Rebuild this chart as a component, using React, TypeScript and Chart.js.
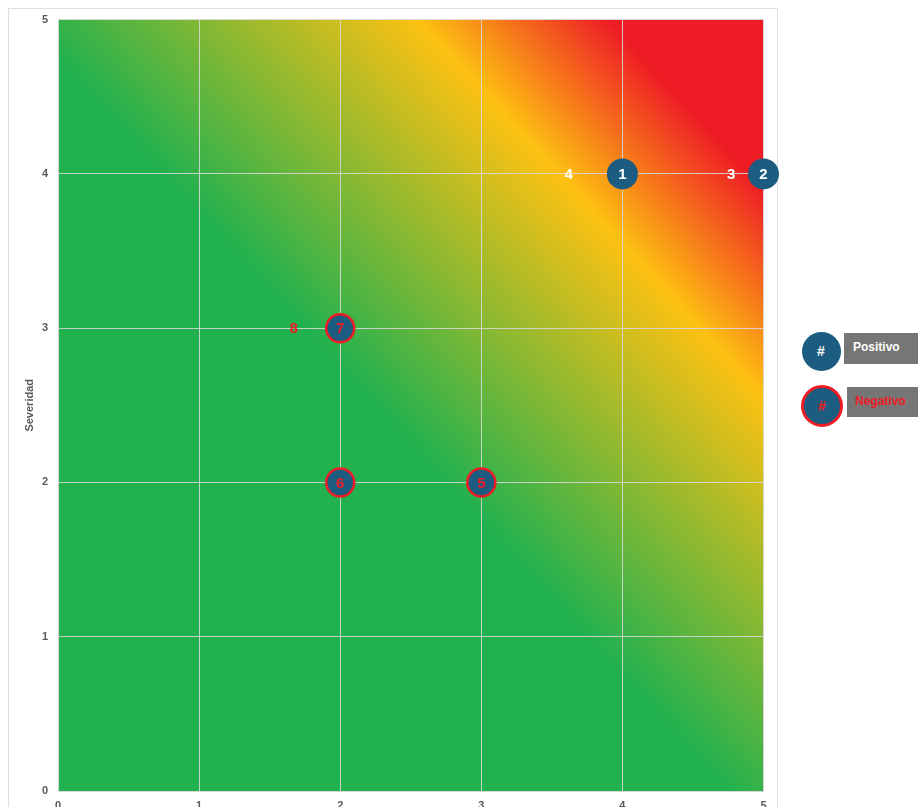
import React, { useEffect, useRef } from 'react';
import { Chart, registerables } from 'chart.js';

Chart.register(...registerables);

// ---- data ----
const positiveX = [4, 5];
const positiveY = [4, 4];
const positiveLabels = ['1', '2'];

const negativeX = [2, 2, 3];
const negativeY = [3, 2, 2];
const negativeLabels = ['7', '6', '5'];

const positiveTextX = [3.62, 4.77];
const positiveTextY = [4, 4];
const positiveTextLabels = ['4', '3'];

const negativeTextX = [1.67];
const negativeTextY = [3];
const negativeTextLabels = ['8'];

const axisMin = 0;
const axisMax = 5;
const yAxisTitle = 'Severidad';
const legendItems = ['Positivo', 'Negativo'];

// ---- styles ----
const FONT = "'Liberation Sans', Arial, sans-serif";
const BLUE = '#1c5c80';
const RED = '#ee1c25';
const TICK_COLOR = '#595959';
const GRID = 'rgba(215,215,215,0.9)';

const pts = (xs: number[], ys: number[]) => xs.map((x, i) => ({ x, y: ys[i] }));

const gradientPlugin = {
  id: 'riskGradient',
  beforeDraw(chart: any) {
    const { ctx, chartArea: a } = chart;
    const w = a.right - a.left;
    const h = a.bottom - a.top;
    const lam = 2 / (1 / (w * w) + 1 / (h * h));
    const g = ctx.createLinearGradient(a.left, a.bottom, a.left + lam / w, a.bottom - lam / h);
    g.addColorStop(0, '#21b14f');
    g.addColorStop(0.475, '#21b14f');
    g.addColorStop(0.755, '#fdc112');
    g.addColorStop(0.89, RED);
    g.addColorStop(1, RED);
    ctx.save();
    ctx.fillStyle = g;
    ctx.fillRect(a.left, a.top, w, h);
    ctx.restore();
  },
};

const labelPlugin = {
  id: 'pointLabels',
  afterDatasetsDraw(chart: any) {
    const { ctx } = chart;
    ctx.save();
    ctx.font = `bold 15px ${FONT}`;
    ctx.textAlign = 'center';
    ctx.textBaseline = 'middle';
    chart.data.datasets.forEach((ds: any, i: number) => {
      const meta = chart.getDatasetMeta(i);
      ctx.fillStyle = ds.labelColor;
      meta.data.forEach((el: any, j: number) => {
        ctx.fillText(ds.pointLabels[j], el.x, el.y + 1);
      });
    });
    ctx.restore();
  },
};

export default function App() {
  const ref = useRef<HTMLCanvasElement | null>(null);

  useEffect(() => {
    document.documentElement.style.overflow = 'hidden';
    if (!ref.current) return;
    const tickFont = { family: FONT, size: 11, weight: 'bold' as const };
    const chart = new Chart(ref.current, {
      type: 'scatter',
      data: {
        datasets: [
          {
            label: 'Positivo',
            data: pts(positiveX, positiveY),
            backgroundColor: BLUE,
            borderWidth: 0,
            pointRadius: 15.5,
            clip: false,
            pointLabels: positiveLabels,
            labelColor: '#ffffff',
          } as any,
          {
            label: 'Negativo',
            data: pts(negativeX, negativeY),
            backgroundColor: BLUE,
            borderColor: RED,
            borderWidth: 2.5,
            pointRadius: 14,
            clip: false,
            pointLabels: negativeLabels,
            labelColor: RED,
          } as any,
          {
            label: 'Positivo texto',
            data: pts(positiveTextX, positiveTextY),
            pointRadius: 0,
            clip: false,
            pointLabels: positiveTextLabels,
            labelColor: '#ffffff',
          } as any,
          {
            label: 'Negativo texto',
            data: pts(negativeTextX, negativeTextY),
            pointRadius: 0,
            clip: false,
            pointLabels: negativeTextLabels,
            labelColor: RED,
          } as any,
        ],
      },
      options: {
        animation: false,
        responsive: false,
        devicePixelRatio: 1,
        layout: { padding: { top: 5, right: 11, left: 0, bottom: 0 } },
        plugins: { legend: { display: false }, tooltip: { enabled: false } },
        scales: {
          x: {
            type: 'linear',
            min: axisMin,
            max: axisMax,
            ticks: { stepSize: 1, padding: 8, color: TICK_COLOR, font: tickFont },
            grid: { color: GRID, drawTicks: false },
            border: { color: GRID },
            afterFit(s: any) {
              s.height = 48;
            },
          },
          y: {
            type: 'linear',
            min: axisMin,
            max: axisMax,
            ticks: { stepSize: 1, padding: 10, color: TICK_COLOR, font: tickFont },
            grid: { color: GRID, drawTicks: false },
            border: { color: GRID },
            title: {
              display: true,
              text: yAxisTitle,
              color: TICK_COLOR,
              font: { family: FONT, size: 11, weight: 'bold' },
              padding: { top: 14, bottom: 0 },
            },
            afterFit(s: any) {
              s.width = 49;
            },
          },
        },
      },
      plugins: [gradientPlugin, labelPlugin],
    } as any);
    return () => chart.destroy();
  }, []);

  const circle = (left: number, top: number, size: number, neg: boolean) => (
    <div
      style={{
        position: 'fixed',
        left,
        top,
        width: size,
        height: size,
        boxSizing: 'border-box',
        borderRadius: '50%',
        background: BLUE,
        border: neg ? `3px solid ${RED}` : 'none',
        color: neg ? RED : '#ffffff',
        font: `bold 14px ${FONT}`,
        display: 'flex',
        alignItems: 'center',
        justifyContent: 'center',
      }}
    >
      #
    </div>
  );

  const box = (left: number, top: number, height: number, text: string, color: string, padLeft: number) => (
    <div
      style={{
        position: 'fixed',
        left,
        top,
        right: 0,
        height,
        boxSizing: 'border-box',
        background: '#767676',
        color,
        font: `bold 12px ${FONT}`,
        paddingLeft: padLeft,
        paddingTop: 7,
        whiteSpace: 'nowrap',
        overflow: 'hidden',
      }}
    >
      {text}
    </div>
  );

  return (
    <div style={{ position: 'relative', width: 902, height: 799 }}>
      <div
        style={{
          position: 'absolute',
          left: 0,
          top: 0,
          width: 790,
          height: 799,
          overflow: 'hidden',
        }}
      >
        <div
          style={{
            position: 'absolute',
            left: 0,
            top: 0,
            width: 770,
            height: 830,
            boxSizing: 'border-box',
            border: '1px solid #dedede',
          }}
        />
        <canvas
          ref={ref}
          width={771}
          height={836}
          style={{ display: 'block', position: 'absolute', left: 1, top: -5 }}
        />
      </div>
      {circle(801.5, 331.5, 39, false)}
      {box(844, 333, 31, legendItems[0], '#ffffff', 9)}
      {circle(801, 385, 42, true)}
      {box(847, 387, 30, legendItems[1], RED, 8)}
    </div>
  );
}
